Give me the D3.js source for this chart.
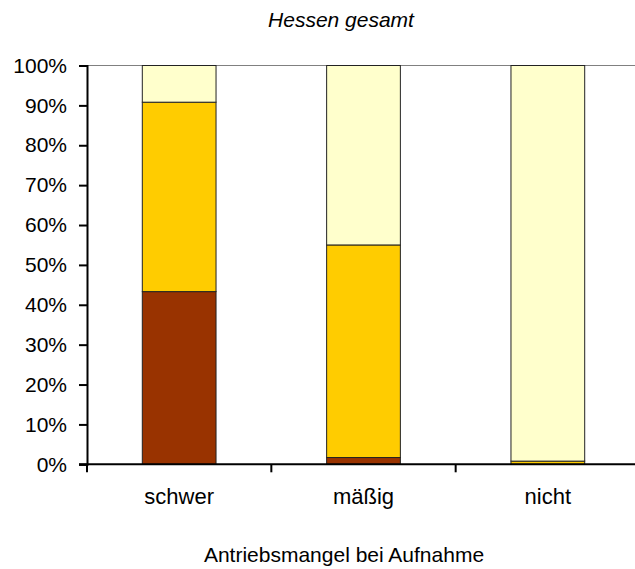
<!DOCTYPE html>
<html><head><meta charset="utf-8">
<script src="https://cdn.jsdelivr.net/npm/d3@7"></script>
<style>body{margin:0;background:#fff}svg{display:block}text{font-family:"Liberation Sans",Arial,sans-serif;fill:#000}</style>
</head><body><svg id="c" width="635" height="569"></svg>
<script>
const categories = ["schwer", "mäßig", "nicht"];
const seriesNames = ["s1", "s2", "s3"];
const s1 = [43.3, 1.7, 0.0];
const s2 = [47.5, 53.3, 0.8];
const s3 = [9.2, 45.0, 99.2];
const colors = ["#993300", "#FFCC00", "#FFFFCC"];
const yTicks = [0,10,20,30,40,50,60,70,80,90,100];
const title = "Hessen gesamt";
const xTitle = "Antriebsmangel bei Aufnahme";

const svg = d3.select("#c");
const pL = 87, pR = 640, pT = 65.5, pB = 464.3;
const x = d3.scaleBand().domain(categories).range([pL, pR]).paddingInner(0.6).paddingOuter(0.3);
const y = d3.scaleLinear().domain([0,100]).range([pB, pT]);

const table = categories.map((c,i)=>({cat:c, s1:s1[i], s2:s2[i], s3:s3[i]}));
const stack = d3.stack().keys(seriesNames)(table);

svg.append("line").attr("x1", pL).attr("x2", pR).attr("y1", y(100)).attr("y2", y(100)).attr("stroke","#808080").attr("stroke-width",1);

stack.forEach((layer, li) => {
  svg.append("g").selectAll("rect").data(layer).join("rect")
    .attr("x", d => x(d.data.cat))
    .attr("width", x.bandwidth())
    .attr("y", d => y(d[1]))
    .attr("height", d => y(d[0]) - y(d[1]))
    .attr("fill", colors[li])
    .attr("stroke", "#222").attr("stroke-width", 1);
});

const ya = svg.append("g").attr("transform", `translate(${pL},0)`)
  .call(d3.axisLeft(y).tickValues(yTicks).tickFormat(d => d + "%").tickSize(8).tickPadding(12));
ya.select(".domain").attr("stroke","#000").attr("stroke-width",2);
ya.selectAll(".tick line").attr("stroke","#000").attr("stroke-width",2);
ya.selectAll("text").style("font-size","21px");

const xa = svg.append("g").attr("transform", `translate(0,${pB})`)
  .call(d3.axisBottom(x).tickSize(0).tickPadding(24));
xa.select(".domain").remove();
xa.append("line").attr("x1", pL - 8).attr("x2", pR).attr("stroke","#000").attr("stroke-width",2);
const step = x.step();
const bounds = d3.range(categories.length + 1).map(i => pL + i * step);
xa.selectAll(".bt").data(bounds).join("line").attr("class","bt")
  .attr("x1", d=>d).attr("x2", d=>d).attr("y1", 0).attr("y2", 8).attr("stroke","#000").attr("stroke-width",2);
xa.selectAll(".tick text").style("font-size","22px");

svg.append("text").attr("x", 341).attr("y", 27).attr("text-anchor","middle")
  .style("font-size","21px").style("font-style","italic").text(title);
svg.append("text").attr("x", 344).attr("y", 562).attr("text-anchor","middle")
  .style("font-size","21px").text(xTitle);
</script></body></html>
